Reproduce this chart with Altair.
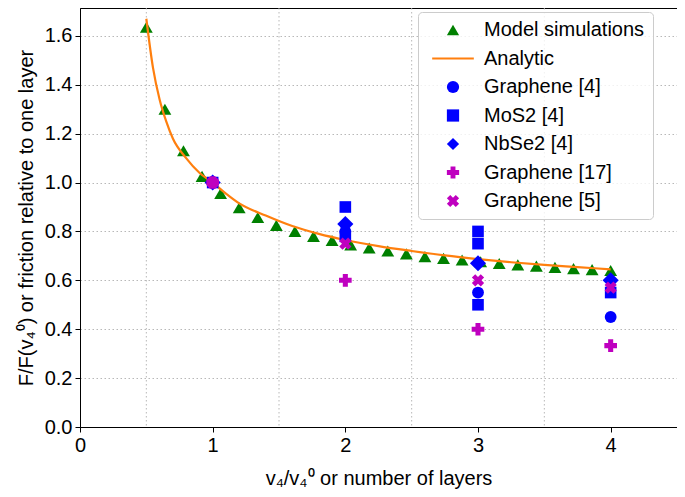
import altair as alt
import pandas as pd

# ---------------- data ----------------
MODEL_X = [0.50, 0.64, 0.78, 0.92, 1.06, 1.20, 1.34, 1.48, 1.62, 1.76, 1.90, 2.04, 2.18,
           2.32, 2.46, 2.60, 2.74, 2.88, 3.02, 3.16, 3.30, 3.44, 3.58, 3.72, 3.86, 4.00]
MODEL_Y = [1.635, 1.30, 1.13, 1.025, 0.955, 0.897, 0.857, 0.825, 0.800, 0.780, 0.763, 0.745, 0.732,
           0.720, 0.708, 0.697, 0.690, 0.683, 0.676, 0.669, 0.663, 0.658, 0.653, 0.648, 0.644, 0.640]

ANALYTIC_X = [0.50, 0.55, 0.60, 0.65, 0.70, 0.80, 0.90, 1.00, 1.10, 1.20, 1.40, 1.60,
              1.80, 2.00, 2.25, 2.50, 2.75, 3.00, 3.25, 3.50, 3.75, 4.00]
ANALYTIC_Y = [1.67, 1.47, 1.34, 1.25, 1.18, 1.10, 1.04, 1.00, 0.955, 0.915, 0.865, 0.822,
              0.790, 0.765, 0.740, 0.720, 0.702, 0.687, 0.674, 0.663, 0.654, 0.645]

GRAPHENE4_X = [1, 2, 3, 4]
GRAPHENE4_Y = [1.0, 0.80, 0.55, 0.45]
MOS2_X = [1, 2, 2, 3, 3, 3, 4]
MOS2_Y = [1.0, 0.90, 0.78, 0.80, 0.75, 0.50, 0.55]
NBSE2_X = [1, 2, 3, 4]
NBSE2_Y = [1.0, 0.83, 0.67, 0.60]
GRAPHENE17_X = [1, 2, 3, 4]
GRAPHENE17_Y = [1.0, 0.60, 0.40, 0.333]
GRAPHENE5_X = [1, 2, 3, 4]
GRAPHENE5_Y = [1.0, 0.75, 0.60, 0.57]

SERIES = ["Model simulations", "Analytic", "Graphene [4]", "MoS2 [4]",
          "NbSe2 [4]", "Graphene [17]", "Graphene [5]"]

X_TICKS = [0, 1, 2, 3, 4]
X_GRID = [0.5, 1.5, 2.5, 3.5]
Y_TICKS = [0.0, 0.2, 0.4, 0.6, 0.8, 1.0, 1.2, 1.4, 1.6]

# ---------------- styles ----------------
COLORS = ["#008000", "#ff7f0e", "#0000ff", "#0000ff", "#0000ff", "#bf00bf", "#bf00bf"]
X_PATH = ("M-1,-0.45L-0.45,-1L0,-0.55L0.45,-1L1,-0.45L0.55,0L1,0.45L0.45,1"
          "L0,0.55L-0.45,1L-1,0.45L-0.55,0Z")
LINE_PATH = "M-3.4,-0.17L3.4,-0.17L3.4,0.17L-3.4,0.17Z"
SHAPES = ["triangle-up", LINE_PATH, "circle", "square", "diamond", "cross", X_PATH]
FONT = "Liberation Sans"

x_scale = alt.Scale(domain=[0, 4.5], nice=False, zero=False)
y_scale = alt.Scale(domain=[0, 1.714], nice=False)
color_scale = alt.Scale(domain=SERIES, range=COLORS)
shape_scale = alt.Scale(domain=SERIES, range=SHAPES)

legend = alt.Legend(
    title=None, orient="none", legendX=338, legendY=4,
    labelFontSize=20, labelFont=FONT, labelColor="black", labelLimit=400,
    symbolSize=150, symbolStrokeWidth=0, padding=8, rowPadding=8.5,
    symbolOffset=17, labelOffset=21,
    strokeColor="#cccccc", fillColor="rgba(255,255,255,0.8)", cornerRadius=4,
)

x_enc = alt.X("x:Q", scale=x_scale,
              axis=alt.Axis(values=X_TICKS, format="d", grid=False, labelFlush=False,
                            title="v₄/v₄⁰ or number of layers"))
y_enc = alt.Y("y:Q", scale=y_scale,
              axis=alt.Axis(values=Y_TICKS, format=".1f", grid=True,
                            title="F/F(v₄⁰) or friction relative to one layer"))


def df(xs, ys, name):
    return pd.DataFrame({"x": xs, "y": ys, "series": [name] * len(xs)})


grid = alt.Chart(pd.DataFrame({"gx": X_GRID})).mark_rule(
    color="#b0b0b0", strokeDash=[1.5, 2.5], strokeWidth=0.9
).encode(x=alt.X("gx:Q", scale=x_scale))

model = alt.Chart(df(MODEL_X, MODEL_Y, SERIES[0])).mark_point(filled=True, size=165, opacity=1).encode(
    x=x_enc, y=y_enc,
    color=alt.Color("series:N", scale=color_scale, legend=legend),
    shape=alt.Shape("series:N", scale=shape_scale, legend=legend),
)

analytic = alt.Chart(df(ANALYTIC_X, ANALYTIC_Y, SERIES[1])).mark_line(
    strokeWidth=2.2, interpolate="monotone"
).encode(
    x=alt.X("x:Q", scale=x_scale), y=alt.Y("y:Q", scale=y_scale),
    color=alt.Color("series:N", scale=color_scale, legend=legend),
)


def pts(xs, ys, name, size):
    return alt.Chart(df(xs, ys, name)).mark_point(filled=True, size=size, opacity=1).encode(
        x=alt.X("x:Q", scale=x_scale), y=alt.Y("y:Q", scale=y_scale),
        color=alt.Color("series:N", scale=color_scale, legend=legend),
        shape=alt.Shape("series:N", scale=shape_scale, legend=legend),
    )


chart = alt.layer(
    grid, model, analytic,
    pts(GRAPHENE4_X, GRAPHENE4_Y, SERIES[2], 140),
    pts(MOS2_X, MOS2_Y, SERIES[3], 135),
    pts(NBSE2_X, NBSE2_Y, SERIES[4], 260),
    pts(GRAPHENE17_X, GRAPHENE17_Y, SERIES[5], 160),
    pts(GRAPHENE5_X, GRAPHENE5_Y, SERIES[6], 150),
).properties(
    width=597, height=419,
    autosize="none",
    padding={"left": 72, "top": 0, "right": 0, "bottom": 62},
).configure_view(
    stroke="black", strokeWidth=1
).configure_axis(
    labelFont=FONT, labelFontSize=20, labelColor="black",
    titleFont=FONT, titleFontSize=20, titleFontWeight="normal", titleColor="black",
    domainColor="black", tickColor="black", tickSize=5, labelPadding=3,
    gridColor="#b0b0b0", gridDash=[1.5, 2.5], gridWidth=0.9,
).configure_axisX(titlePadding=13).configure_axisY(titlePadding=8)

chart.save("out.html", embed_options={"renderer": "svg", "actions": False})
